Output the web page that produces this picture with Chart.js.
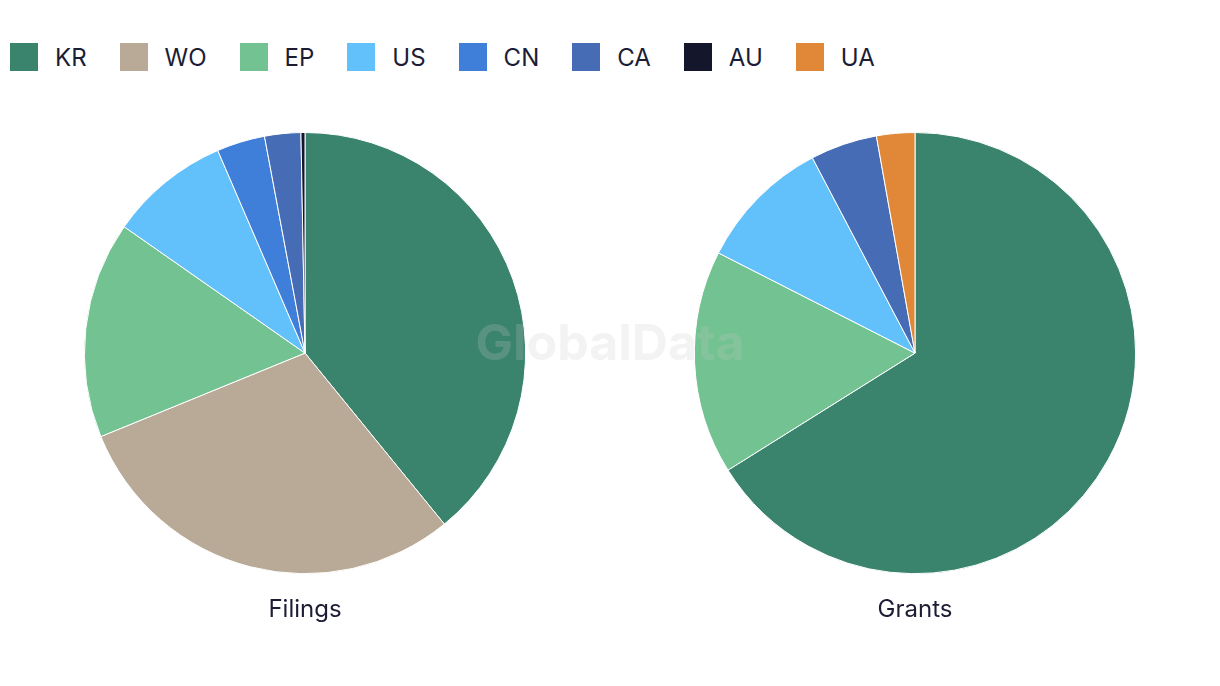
<!DOCTYPE html>
<html>
<head>
<meta charset="utf-8">
<script src="https://cdn.jsdelivr.net/npm/chart.js@4/dist/chart.umd.min.js"></script>
<style>
  body { margin: 0; width: 1220px; height: 686px; background: #fff; position: relative; overflow: hidden;
         font-family: Inter, "Noto Sans", sans-serif; color: #1c1d35; }
  #legend { position: absolute; left: 10px; top: 43px; display: flex; }
  .item { display: flex; align-items: center; margin-right: 33px; font-size: 24px; height: 28px; }
  .box { width: 28px; height: 28px; margin-right: 17px; }
  .wrap { position: absolute; top: 100px; width: 610px; height: 540px; }
  #watermark { position: absolute; left: 0; top: 317px; width: 1220px; text-align: center;
               font: bold 50px Inter, sans-serif; line-height: 50px; color: rgba(199, 199, 199, 0.22);
               pointer-events: none; z-index: 5; }
</style>
</head>
<body>
<div id="legend"></div>
<div class="wrap" style="left:0"><canvas id="filings"></canvas></div>
<div class="wrap" style="left:610px"><canvas id="grants"></canvas></div>
<div id="watermark">GlobalData</div>

<script>
// Patent counts by office (grants read as shares of the pie)
const legendLabels = ["KR", "WO", "EP", "US", "CN", "CA", "AU", "UA"]
const filingLabels = ["KR", "WO", "EP", "US", "CN", "CA", "AU"]
const filingValues = [133, 101, 54, 30, 12, 9, 1]
const grantLabels = ["KR", "EP", "US", "CA", "UA"]
const grantValues = [66.1, 16.4, 9.8, 4.9, 2.8]

const officeColors = {
  KR: "#3a836c",
  WO: "#b8aa96",
  EP: "#73c291",
  US: "#62c0fa",
  CN: "#3f7fd9",
  CA: "#456cb4",
  AU: "#14162b",
  UA: "#e08837"
}

// Shared legend across both pies
const legend = document.getElementById("legend")
legendLabels.forEach(label => {
  const item = document.createElement("div")
  item.className = "item"
  const box = document.createElement("span")
  box.className = "box"
  box.style.background = officeColors[label]
  item.appendChild(box)
  item.appendChild(document.createTextNode(label))
  legend.appendChild(item)
})

function makePie(id, title, labels, values) {
  const ctx = document.getElementById(id).getContext("2d")
  return new Chart(ctx, {
    type: "pie",
    data: {
      labels: labels,
      datasets: [{
        data: values,
        backgroundColor: labels.map(l => officeColors[l]),
        borderColor: "#ffffff",
        borderWidth: 1
      }]
    },
    options: {
      responsive: true,
      maintainAspectRatio: false,
      animation: false,
      layout: { padding: { top: 32, left: 0, right: 0, bottom: 0 } },
      plugins: {
        legend: { display: false },
        title: {
          display: true,
          text: title,
          position: "bottom",
          color: "#1c1d35",
          font: { family: "Inter", size: 24, weight: "normal", lineHeight: 1.2 },
          padding: { top: 21, bottom: 16 }
        }
      }
    }
  })
}

makePie("filings", "Filings", filingLabels, filingValues)
makePie("grants", "Grants", grantLabels, grantValues)
</script>
</body>
</html>
